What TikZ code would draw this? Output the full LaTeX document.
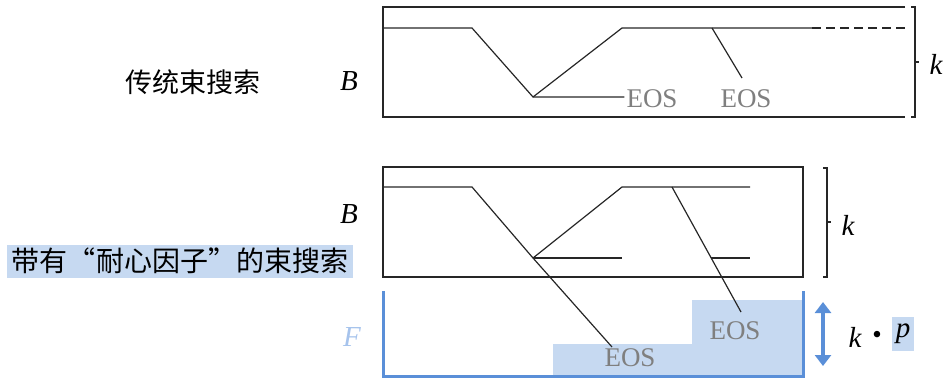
\documentclass[tikz,border=0pt]{standalone}
\usepackage{fontspec}
\setmainfont{Liberation Serif}
\newfontfamily\cjk{Noto Sans CJK SC}
\usetikzlibrary{arrows.meta}
\definecolor{hlblue}{HTML}{C6D9F1}
\definecolor{bucketblue}{HTML}{5A8FD8}
\definecolor{eosgray}{HTML}{7F7F7F}
\definecolor{fblue}{HTML}{A6C3EC}

\begin{document}
\begin{tikzpicture}[
  x=1pt, y=-1pt,
  beam/.style={line width=1.2pt, black!85},
  frame/.style={draw, line width=1.3pt, black!85},
  eos/.style={text=eosgray, font=\fontsize{27}{30}\selectfont, inner sep=2pt},
  lbl/.style={font=\fontsize{27}{30}\selectfont, inner sep=2pt},
  var/.style={font=\fontsize{29}{32}\selectfont\itshape, inner sep=2pt},
  brack/.style={line width=1.2pt, black!85},
  bucket/.style={line width=3pt, bucketblue}
]
\useasboundingbox (0,0) rectangle (947,378);

% traditional beam search
\draw[frame] (905,7) -- (383,7) -- (383,117) -- (905,117);
\node[lbl] (tradname) at (193,82) {\cjk 传统束搜索};
\node[var] (tradB) at (349,81) {B};
\coordinate (t1) at (383,28);
\coordinate (t2) at (472,28);
\coordinate (t3) at (533,97);
\coordinate (t4) at (622,28);
\coordinate (t5) at (712,28);
\coordinate (t6) at (742,78);
\coordinate (t7) at (812,28);
\coordinate (t8) at (905,28);
\node[eos] (teos1) at (652,99) {EOS};
\node[eos] (teos2) at (746,99) {EOS};
\draw[beam] (t1) -- (t2) -- (t3) -- (teos1.west |- t3);
\draw[beam] (t3) -- (t4) -- (t7);
\draw[beam] (t5) -- (t6);
\draw[beam, dashed, dash pattern=on 9pt off 5pt] (t7) -- (t8);
\draw[brack] (911,7) -- (915,7) -- (915,117) -- (911,117);
\draw[brack] (915,62) -- (919,62);
\node[var] (tradk) at (936,64) {k};

% beam search with patience factor
\node[lbl, fill=hlblue, minimum width=346pt, minimum height=33pt] (patname) at (180,261)
  {\cjk\fontsize{28}{32}\selectfont 带有“耐心因子”的束搜索};
\draw[frame] (383,167) rectangle (803,277);
\node[var] (patB) at (349,214) {B};
\coordinate (p1) at (383,187);
\coordinate (p2) at (472,187);
\coordinate (p3) at (533,258);
\coordinate (p4) at (622,258);
\coordinate (p5) at (622,187);
\coordinate (p6) at (672,187);
\coordinate (p7) at (750,187);
\coordinate (p8) at (711,258);
\coordinate (p9) at (750,258);
\coordinate (p10) at (612,347);
\coordinate (p11) at (741,312);
\draw[brack] (823,168) -- (827,168) -- (827,277) -- (823,277);
\draw[brack] (827,222) -- (831,222);
\node[var] (patk) at (848,225) {k};

% finished buffer
\fill[hlblue] (553,376) -- (553,344) -- (692,344) -- (692,300) -- (803,300) -- (803,376) -- cycle;
\draw[bucket] (383,291) -- (383,376) -- (803,376) -- (803,291);
\node[eos] (feos1) at (630,358) {EOS};
\node[eos] (feos2) at (735,331) {EOS};
\node[var, text=fblue] (bufF) at (352,337) {F};
\draw[beam] (p1) -- (p2) -- (p3) -- (p10);
\draw[beam] (p3) -- (p4);
\draw[beam] (p3) -- (p5) -- (p7);
\draw[beam] (p6) -- (p11);
\draw[beam] (p8) -- (p9);
\coordinate (h1) at (823,302);
\coordinate (h2) at (823,366);
\draw[line width=3.5pt, bucketblue, {Triangle[width=16pt,length=11pt]}-{Triangle[width=16pt,length=11pt]}] (h1) -- (h2);
\node[var] (kk) at (855,337) {k};
\node[lbl] (kdot) at (877,337) {•};
\node[var, fill=hlblue, inner sep=0pt, minimum height=34pt, minimum width=22pt] (kp) at (903,334) {p};
\end{tikzpicture}
\end{document}
